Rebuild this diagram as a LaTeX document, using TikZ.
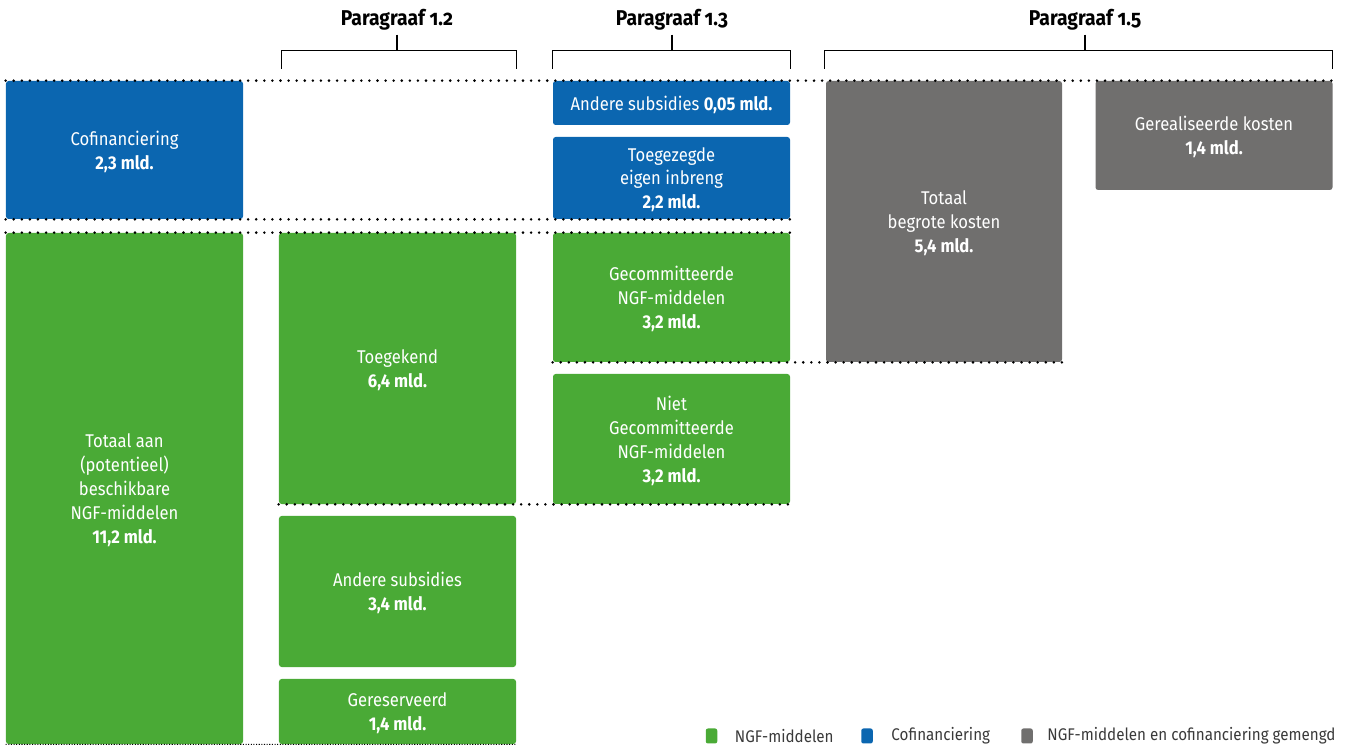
\documentclass[tikz,border=0pt]{standalone}
\usepackage{fontspec}
\setmainfont{Fira Sans}[FakeStretch=0.9]
\newfontfamily\kopfont{Fira Sans}[FakeStretch=0.9, Numbers=OldStyle]
\usetikzlibrary{positioning,calc}

\definecolor{ngfgroen}{HTML}{4AAA36}
\definecolor{cofiblauw}{HTML}{0B66B0}
\definecolor{gemengdgrijs}{HTML}{706F6E}
\definecolor{legtekst}{HTML}{3A3A3A}

\tikzset{
  blok/.style={rounded corners=1.5pt, minimum width=47.4mm, align=center, text=white,
    font=\fontsize{10.5}{13.6}\selectfont, inner sep=0pt, text depth=0pt,
    execute at begin node={\vspace*{3.4pt}}},
  ngf/.style={blok, fill=ngfgroen},
  cofi/.style={blok, fill=cofiblauw},
  gemengd/.style={blok, fill=gemengdgrijs},
  stippel/.style={line width=1.6pt, line cap=round, dash pattern=on 0pt off 4.6pt},
  fijnstippel/.style={line width=0.6pt, dash pattern=on 0.6pt off 0.9pt},
  kop/.style={font=\kopfont\bfseries\fontsize{12.2}{14}\selectfont},
  haak/.style={line width=0.6pt},
  legblok/.style={rounded corners=1.2pt, minimum width=2.3mm, minimum height=3mm, inner sep=0pt},
  legtxt/.style={text=legtekst, font=\fontsize{9.6}{12}\selectfont, inner sep=0pt, anchor=west}
}

\begin{document}
\begin{tikzpicture}[x=0.2mm, y=-0.2mm]
  \useasboundingbox (0,0) rectangle (1349,749);

  % Totaal
  \node[cofi, minimum height=27.6mm] (cofin) at (124.5,150) {Cofinanciering\\\textbf{2,3 mld.}};
  \node[ngf, minimum height=102.2mm] (totaal) at (124.5,488.5)
    {Totaal aan\\(potentieel)\\beschikbare\\NGF-middelen\\\textbf{11,2 mld.}};

  % Paragraaf 1.2
  \node[ngf, minimum height=54.2mm] (toegekend) at (397.5,368.5) {Toegekend\\\textbf{6,4 mld.}};
  \node[ngf, minimum height=30.2mm] (andsub) at (397.5,591.5) {Andere subsidies\\\textbf{3,4 mld.}};
  \node[ngf, minimum height=13mm] (gereserv) at (397.5,711.5) {Gereserveerd\\\textbf{1,4 mld.}};

  % Paragraaf 1.3
  \node[cofi, minimum height=8.8mm] (andsubc) at (671.5,103) {Andere subsidies \textbf{0,05 mld.}};
  \node[cofi, minimum height=16.4mm] (toegez) at (671.5,178) {Toegezegde\\eigen inbreng\\\textbf{2,2 mld.}};
  \node[ngf, minimum height=25.8mm] (gecom) at (671.5,297.5) {Gecommitteerde\\NGF-middelen\\\textbf{3,2 mld.}};
  \node[ngf, minimum height=26mm] (nietgecom) at (671.5,439)
    {Niet\\Gecommitteerde\\NGF-middelen\\\textbf{3,2 mld.}};

  % Paragraaf 1.5
  \node[gemengd, minimum width=47.2mm, minimum height=56.2mm] (begroot) at (944,221.5)
    {Totaal\\begrote kosten\\\textbf{5,4 mld.}};
  \node[gemengd, minimum height=21.8mm] (gereal) at (1214,135.5) {Gerealiseerde kosten\\\textbf{1,4 mld.}};

  % Stippellijnen
  \draw[stippel] (cofin.north west) -- (gereal.north east);
  \draw[stippel] (cofin.south west) -- (toegez.south east);
  \draw[stippel] (totaal.north west) -- (gecom.north east);
  \draw[stippel] (gecom.south west) -- (begroot.south east);
  \draw[stippel] (toegekend.south west) -- (nietgecom.south east);
  \draw[fijnstippel] (totaal.south west) -- (gereserv.south east);

  % Koppen met haken
  \node[kop] (par12) at (397,20) {Paragraaf 1.2};
  \node[kop] (par13) at (672,20) {Paragraaf 1.3};
  \node[kop] (par15) at (1085,20) {Paragraaf 1.5};

  \draw[haak] ($(toegekend.north west |- cofin.north)+(3,-12)$) -- ++(0,-18) coordinate (h12)
    -| ($(toegekend.north east |- cofin.north)+(0,-12)$);
  \draw[haak] ($(andsubc.north west)+(0,-12)$) -- ++(0,-18) coordinate (h13)
    -| ($(andsubc.north east)+(0,-12)$);
  \draw[haak] ($(begroot.north west)+(-1,-12)$) -- ++(0,-18) coordinate (h15)
    -| ($(gereal.north east)+(0,-12)$);
  \draw[haak] ($(par12.south)+(0,-2)$) -- (par12.south |- h12);
  \draw[haak] ($(par13.south)+(0,-2)$) -- (par13.south |- h13);
  \draw[haak] ($(par15.south)+(0,-2)$) -- (par15.south |- h15);

  % Legenda
  \node[legblok, fill=ngfgroen] (lngf) at (711.5,736) {};
  \node[legtxt, right=3.4mm of lngf] (tngf) {NGF-middelen};
  \node[legblok, fill=cofiblauw] (lcofi) at (867,736) {};
  \node[legtxt, right=3.6mm of lcofi] (tcofi) {Cofinanciering};
  \node[legblok, fill=gemengdgrijs] (lgem) at (1027,736) {};
  \node[legtxt, right=2.8mm of lgem] (tgem) {NGF-middelen en cofinanciering gemengd};
\end{tikzpicture}
\end{document}
